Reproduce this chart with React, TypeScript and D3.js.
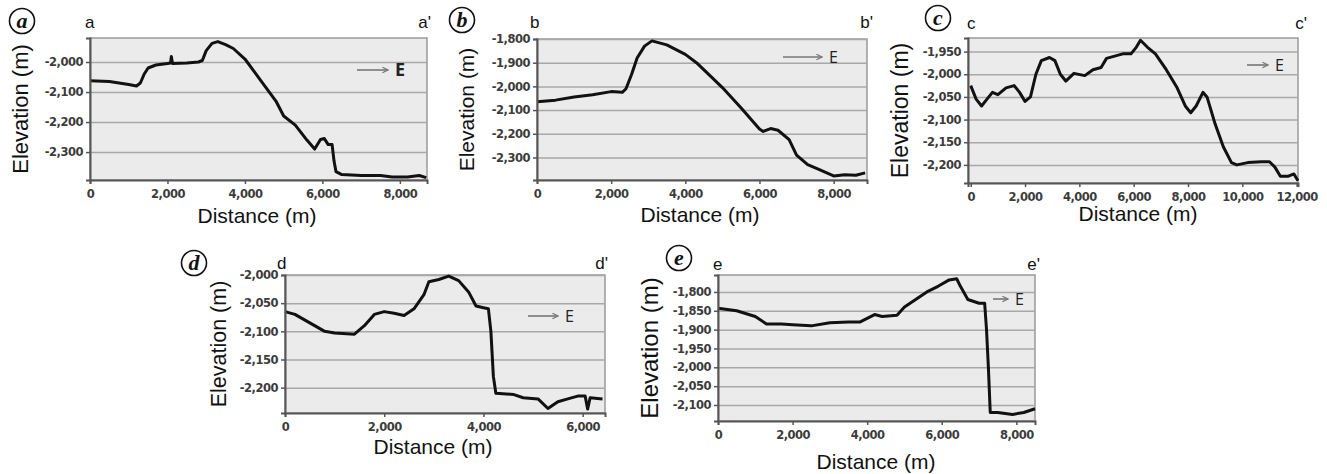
import React, { useEffect, useRef } from 'react'
import * as d3 from 'd3'

// elevation profiles: [distance (m), elevation (m)]
const profileA: [number, number][] = [
  [0, -2062], [500, -2065], [1000, -2075], [1200, -2080], [1300, -2070], [1400, -2040], [1500, -2020],
  [1700, -2010], [2000, -2005], [2080, -2003], [2100, -1982], [2130, -2005], [2500, -2003],
  [2800, -2000], [2900, -1995], [3000, -1962], [3150, -1938], [3300, -1932], [3500, -1942],
  [3700, -1955], [4000, -1990], [4400, -2060], [4800, -2130], [5000, -2180], [5300, -2210],
  [5600, -2260], [5800, -2290], [5950, -2258], [6050, -2255], [6150, -2275], [6250, -2275],
  [6300, -2330], [6350, -2365], [6500, -2375], [7000, -2378], [7500, -2378], [7800, -2383],
  [8200, -2383], [8500, -2378], [8680, -2385],
]
const profileB: [number, number][] = [
  [0, -2065], [500, -2058], [1000, -2045], [1500, -2035], [2000, -2022], [2300, -2025],
  [2400, -2010], [2550, -1950], [2700, -1880], [2900, -1830], [3100, -1808], [3500, -1825],
  [4000, -1865], [4300, -1900], [4700, -1960], [5000, -2005], [5500, -2090], [6000, -2180],
  [6100, -2190], [6300, -2178], [6500, -2185], [6800, -2225], [7000, -2290], [7300, -2330],
  [7600, -2350], [8000, -2378], [8300, -2373], [8600, -2375], [8850, -2365],
]
const profileC: [number, number][] = [
  [0, -2025], [200, -2055], [400, -2070], [600, -2055], [800, -2040], [1000, -2045], [1300, -2030],
  [1600, -2025], [1800, -2040], [2000, -2060], [2200, -2050], [2400, -2000], [2600, -1970],
  [2900, -1963], [3100, -1970], [3300, -2000], [3500, -2015], [3800, -1998], [4200, -2003],
  [4500, -1990], [4800, -1985], [5000, -1965], [5300, -1960], [5600, -1955], [5900, -1955],
  [6100, -1940], [6250, -1925], [6500, -1940], [6800, -1955], [7200, -1990], [7600, -2030],
  [7900, -2070], [8100, -2085], [8300, -2070], [8550, -2040], [8700, -2050], [9000, -2110],
  [9300, -2160], [9600, -2195], [9800, -2200], [10200, -2195], [10700, -2193], [11000, -2193],
  [11200, -2205], [11400, -2225], [11700, -2225], [11900, -2220], [12050, -2235],
]
const profileD: [number, number][] = [
  [0, -2065], [200, -2070], [500, -2085], [800, -2100], [1000, -2103], [1400, -2105], [1600, -2090],
  [1800, -2070], [2000, -2065], [2200, -2068], [2400, -2072], [2600, -2060], [2800, -2035],
  [2900, -2012], [3100, -2008], [3300, -2002], [3500, -2010], [3700, -2030], [3850, -2055],
  [4000, -2058], [4100, -2060], [4150, -2100], [4200, -2180], [4250, -2210], [4600, -2212],
  [4800, -2218], [5100, -2220], [5300, -2237], [5500, -2225], [5700, -2220], [5900, -2215],
  [6050, -2215], [6100, -2238], [6150, -2218], [6400, -2220],
]
const profileE: [number, number][] = [
  [0, -1843], [500, -1850], [1000, -1865], [1300, -1885], [1700, -1885], [2000, -1887], [2500, -1890],
  [3000, -1882], [3500, -1880], [3800, -1880], [4000, -1870], [4200, -1860], [4400, -1865],
  [4800, -1862], [5000, -1840], [5300, -1820], [5600, -1800], [5900, -1785], [6200, -1768],
  [6400, -1765], [6500, -1785], [6700, -1820], [7000, -1830], [7150, -1830], [7200, -1900],
  [7250, -2000], [7300, -2120], [7500, -2120], [7900, -2125], [8200, -2120], [8500, -2110],
]

const xTicksA = [0, 2000, 4000, 6000, 8000]
const xTicksC = [0, 2000, 4000, 6000, 8000, 10000, 12000]
const xTicksD = [0, 2000, 4000, 6000]
const yTicksA = [-2000, -2100, -2200, -2300]
const yTicksB = [-1800, -1900, -2000, -2100, -2200, -2300]
const yTicksC = [-1950, -2000, -2050, -2100, -2150, -2200]
const yTicksD = [-2000, -2050, -2100, -2150, -2200]
const yTicksE = [-1800, -1850, -1900, -1950, -2000, -2050, -2100]

const panelLetters = ['a', 'b', 'c', 'd', 'e']

const panels = [
  { data: profileA, xTicks: xTicksA, yTicks: yTicksA, xDom: [0, 8700], yDom: [-2393, -1920],
    box: [90, 38, 427, 180], circle: [22, 21], lab: [85, 28, 431], elevX: 20, elevSize: 22, distPos: [257, 223],
    arrow: [357, 388, 70], boldE: true },
  { data: profileB, xTicks: xTicksA, yTicks: yTicksB, xDom: [0, 8900], yDom: [-2395, -1800],
    box: [537, 39, 867, 180], circle: [462, 20], lab: [530, 28, 873], elevX: 467, elevSize: 21, distPos: [700, 222],
    arrow: [783, 822, 57], boldE: false },
  { data: profileC, xTicks: xTicksC, yTicks: yTicksC, xDom: [-100, 12050], yDom: [-2240, -1920],
    box: [968, 38, 1298, 183], circle: [938, 18], lab: [967, 29, 1307], elevX: 900, elevSize: 23, distPos: [1138, 221],
    arrow: [1247, 1268, 65], boldE: false },
  { data: profileD, xTicks: xTicksD, yTicks: yTicksD, xDom: [0, 6450], yDom: [-2245, -2000],
    box: [285, 275, 605, 413], circle: [194, 263], lab: [277, 269, 608], elevX: 218, elevSize: 21.5, distPos: [433, 454],
    arrow: [528, 558, 316], boldE: false },
  { data: profileE, xTicks: xTicksA, yTicks: yTicksE, xDom: [0, 8500], yDom: [-2142.5, -1755],
    box: [718, 275, 1035, 421], circle: [679, 258], lab: [713, 270, 1040], elevX: 650, elevSize: 24, distPos: [876, 469],
    arrow: [993, 1008, 299], boldE: false },
]

const fmt = d3.formatLocale({ decimal: '.', thousands: ',', grouping: [3], currency: ['', ''], minus: '-' }).format(',')

export default function App() {
  const ref = useRef<SVGSVGElement>(null)

  useEffect(() => {
    const svg = d3.select(ref.current)
    svg.selectAll('*').remove()

    svg.append('defs').append('marker')
      .attr('id', 'arrowhead')
      .attr('viewBox', '0 0 10 10')
      .attr('refX', 9).attr('refY', 5)
      .attr('markerWidth', 7).attr('markerHeight', 7)
      .attr('markerUnits', 'userSpaceOnUse')
      .attr('orient', 'auto')
      .append('path')
      .attr('d', 'M1,1 L9,5 L1,9')
      .attr('fill', 'none')
      .attr('stroke', '#777')
      .attr('stroke-width', 1.6)

    panels.forEach((p, i) => {
      const [x0, y0, x1, y1] = p.box
      const w = x1 - x0
      const h = y1 - y0
      const x = d3.scaleLinear().domain(p.xDom).range([x0, x1])
      const y = d3.scaleLinear().domain(p.yDom).range([y1, y0])
      const g = svg.append('g')

      g.append('rect')
        .attr('x', x0).attr('y', y0).attr('width', w).attr('height', h)
        .attr('fill', '#ebebeb')
        .attr('stroke', '#9a9a9a')
        .attr('stroke-width', 1.5)

      // grid lines
      const grid = g.append('g')
        .attr('transform', `translate(${x0},0)`)
        .call(d3.axisLeft(y).tickValues(p.yTicks).tickSize(-w).tickFormat(() => ''))
      grid.select('.domain').remove()
      grid.selectAll('line').attr('stroke', '#a8a8a8').attr('stroke-width', 1.5)

      // profile line
      const line = d3.line<[number, number]>()
        .x(d => x(d[0]))
        .y(d => y(d[1]))
      g.append('path')
        .datum(p.data)
        .attr('d', line)
        .attr('fill', 'none')
        .attr('stroke', '#111')
        .attr('stroke-width', 3)
        .attr('stroke-linejoin', 'round')

      // axes
      const yAxis = g.append('g')
        .attr('transform', `translate(${x0},0)`)
        .call(d3.axisLeft(y).tickValues(p.yTicks).tickSize(4).tickPadding(3).tickFormat(d => fmt(d as number)))
      const xAxis = g.append('g')
        .attr('transform', `translate(0,${y1})`)
        .call(d3.axisBottom(x).tickValues(p.xTicks).tickSize(4).tickPadding(6).tickFormat(d => fmt(d as number)))
      for (const ax of [yAxis, xAxis]) {
        ax.select('.domain').attr('stroke', '#555').attr('stroke-width', 2)
        ax.selectAll('line').attr('stroke', '#555').attr('stroke-width', 1.5)
        ax.selectAll('text')
          .attr('fill', '#3c3c3c')
          .style('font-family', '"DejaVu Sans", Verdana, sans-serif')
          .style('font-weight', 'bold')
          .style('font-size', '11.5px')
          .style('letter-spacing', '-0.5px')
      }

      // axis titles
      g.append('text')
        .attr('transform', `translate(${p.elevX},${(y0 + y1) / 2}) rotate(-90)`)
        .attr('text-anchor', 'middle')
        .attr('dy', '0.35em')
        .style('font-family', '"Liberation Sans", Arial, sans-serif')
        .style('font-size', p.elevSize + 'px')
        .attr('fill', '#111')
        .text('Elevation (m)')
      g.append('text')
        .attr('x', p.distPos[0]).attr('y', p.distPos[1])
        .attr('text-anchor', 'middle')
        .style('font-family', '"Liberation Sans", Arial, sans-serif')
        .style('font-size', '21px')
        .attr('fill', '#111')
        .text('Distance (m)')

      // section endpoints
      const letter = panelLetters[i]
      g.append('text')
        .attr('x', p.lab[0]).attr('y', p.lab[1])
        .style('font-family', '"Liberation Sans", Arial, sans-serif')
        .style('font-size', '17px')
        .attr('fill', '#111')
        .text(letter)
      g.append('text')
        .attr('x', p.lab[2]).attr('y', p.lab[1])
        .attr('text-anchor', 'end')
        .style('font-family', '"Liberation Sans", Arial, sans-serif')
        .style('font-size', '17px')
        .attr('fill', '#111')
        .text(letter + "'")

      // circled panel letter
      g.append('circle')
        .attr('cx', p.circle[0]).attr('cy', p.circle[1]).attr('r', 12.5)
        .attr('fill', 'white')
        .attr('stroke', '#111')
        .attr('stroke-width', 1.6)
      g.append('text')
        .attr('x', p.circle[0]).attr('y', p.circle[1])
        .attr('text-anchor', 'middle')
        .attr('dy', '0.3em')
        .style('font-family', '"Liberation Serif", "Times New Roman", serif')
        .style('font-style', 'italic')
        .style('font-weight', 'bold')
        .style('font-size', '22px')
        .attr('fill', '#111')
        .text(letter)

      // direction arrow
      const [ax0, ax1, ay] = p.arrow
      g.append('line')
        .attr('x1', ax0).attr('x2', ax1).attr('y1', ay).attr('y2', ay)
        .attr('stroke', '#777')
        .attr('stroke-width', 1.6)
        .attr('marker-end', 'url(#arrowhead)')
      g.append('text')
        .attr('x', ax1 + 7).attr('y', ay)
        .attr('dy', '0.36em')
        .style('font-family', '"Open Sans", "Liberation Sans", sans-serif')
        .style('font-weight', p.boldE ? 'bold' : 'normal')
        .style('font-size', p.boldE ? '18px' : '16px')
        .attr('fill', '#222')
        .text('E')
    })
  }, [])

  return (
    <svg ref={ref} width={1327} height={474}
      style={{ position: 'absolute', left: 0, top: 0, background: 'white' }} />
  )
}
